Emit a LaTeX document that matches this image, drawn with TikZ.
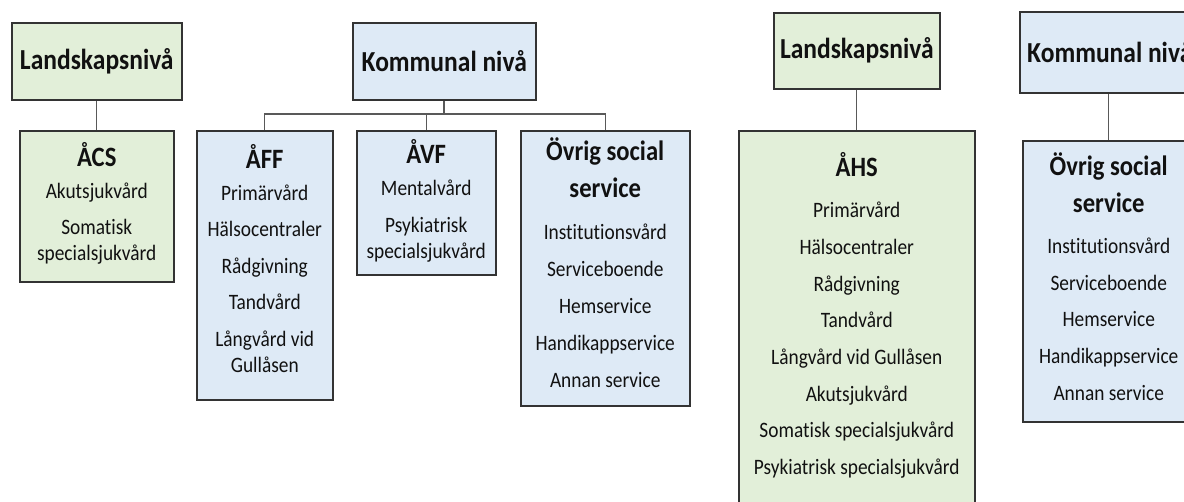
\documentclass[tikz,border=0pt]{standalone}
\usepackage{fontspec}
\setmainfont{Carlito}[FakeStretch=0.88, Ligatures=NoCommon]
\usepackage{tikz}
\definecolor{lgreen}{HTML}{E2EFD9}
\definecolor{lblue}{HTML}{DEEAF6}
\definecolor{edge}{HTML}{333333}
\definecolor{wirec}{HTML}{595959}
\definecolor{ink}{HTML}{111111}
\newcommand{\ttl}[1]{{\fontsize{28}{30}\selectfont\bfseries #1}}
\tikzset{
  box/.style={draw=edge, line width=1.5pt, rectangle, inner sep=0pt, anchor=north west},
  gbox/.style={box, fill=lgreen},
  bbox/.style={box, fill=lblue},
  head/.style={font=\fontsize{29}{32}\selectfont\bfseries, text=ink},
  txt/.style={align=center, inner sep=0pt, anchor=north, text=ink, font=\fontsize{22}{26}\selectfont},
  wire/.style={draw=wirec, line width=1.3pt}
}

\begin{document}
\begin{tikzpicture}[x=1pt, y=-1pt]
  \useasboundingbox (0,0) rectangle (1184,501);
  \clip (0,0) rectangle (1184,501);

  % left chart
  \node[gbox, head, minimum width=170pt, minimum height=77pt] (land1) at (11,22) {Landskapsnivå};
  \node[gbox, minimum width=154pt, minimum height=151pt] (acs) at (19,130) {};
  \node[bbox, head, minimum width=183pt, minimum height=77pt] (komm1) at (352,22) {Kommunal nivå};
  \node[bbox, minimum width=136pt, minimum height=269pt] (aff) at (196,130) {};
  \node[bbox, minimum width=139pt, minimum height=144pt] (avf) at (356,130) {};
  \node[bbox, minimum width=169pt, minimum height=275pt] (ovr) at (520,130) {};

  \node[txt] (acs-t) at ([yshift=-12.5pt]acs.north) {\ttl{ÅCS}\\[6pt]
    Akutsjukvård\\[10pt] Somatisk\\ specialsjukvård};
  \node[txt] (aff-t) at ([yshift=-14pt]aff.north) {\ttl{ÅFF}\\[6pt]
    Primärvård\\[10.5pt] Hälsocentraler\\[10.5pt] Rådgivning\\[10.5pt] Tandvård\\[10.5pt]
    Långvård vid\\ Gullåsen};
  \node[txt] (avf-t) at ([yshift=-9.5pt]avf.north) {\ttl{ÅVF}\\[6pt]
    Mentalvård\\[11pt] Psykiatrisk\\ specialsjukvård};
  \node[txt] (ovr-t) at ([yshift=-7.5pt]ovr.north) {\ttl{Övrig social}\\[11pt] \ttl{service}\\[16pt]
    Institutionsvård\\[11pt] Serviceboende\\[11pt] Hemservice\\[11pt]
    Handikappservice\\[11pt] Annan service};

  \coordinate (bus) at (0,114);
  \draw[wire] (land1.south) -- (acs.north);
  \draw[wire, line width=2pt] (komm1.south) -- (komm1.south |- bus);
  \draw[wire] (aff.north) -- (aff.north |- bus) -- (ovr.north |- bus) -- (ovr.north);
  \draw[wire] (avf.north) -- (avf.north |- bus);

  % right chart
  \node[gbox, head, minimum width=166pt, minimum height=76pt] (land2) at (773,12) {Landskapsnivå};
  \node[gbox, minimum width=236pt, minimum height=400pt] (ahs) at (738,130) {};
  \node[bbox, head, minimum width=180pt, minimum height=81pt] (komm2) at (1019,11) {Kommunal nivå};
  \node[bbox, minimum width=172pt, minimum height=281pt] (ovr2) at (1022,140) {};

  \node[txt] (ahs-t) at ([yshift=-22.5pt]ahs.north) {\ttl{ÅHS}\\[15pt]
    Primärvård\\[10.7pt] Hälsocentraler\\[10.7pt] Rådgivning\\[10.7pt] Tandvård\\[10.7pt]
    Långvård vid Gullåsen\\[10.7pt] Akutsjukvård\\[10.7pt] Somatisk specialsjukvård\\[10.7pt]
    Psykiatrisk specialsjukvård};
  \node[txt] (ovr2-t) at ([yshift=-12.5pt]ovr2.north) {\ttl{Övrig social}\\[11pt] \ttl{service}\\[15pt]
    Institutionsvård\\[10.7pt] Serviceboende\\[10.7pt] Hemservice\\[10.7pt]
    Handikappservice\\[10.7pt] Annan service};

  \draw[wire] (land2.south) -- (ahs.north);
  \draw[wire] (ovr2.north |- komm2.south) -- (ovr2.north);
\end{tikzpicture}
\end{document}
